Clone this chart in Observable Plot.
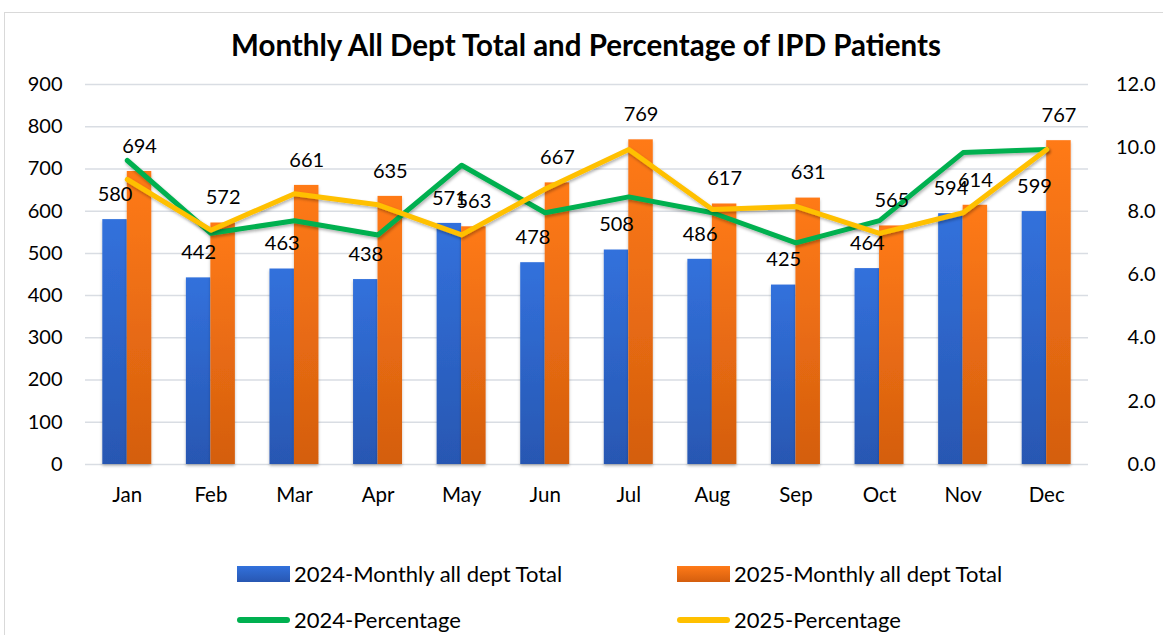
<!DOCTYPE html>
<html><head><meta charset="utf-8">
<script src="https://cdn.jsdelivr.net/npm/d3@7"></script>
<script src="https://cdn.jsdelivr.net/npm/@observablehq/plot@0.6"></script>
<style>
body{margin:0;width:1163px;height:635px;overflow:hidden;background:#fff;font-family:Lato,"Liberation Sans",sans-serif;color:#000;position:relative;}
#frame{position:absolute;left:4px;top:12px;width:1200px;height:700px;border:1px solid #d9d9d9;box-sizing:border-box;}
#title{position:absolute;top:27px;left:0;width:1172px;text-align:center;font-weight:bold;font-size:29.5px;line-height:36px;}
#chart{position:absolute;left:0;top:0;}
.leg{position:absolute;font-size:22px;line-height:26px;white-space:nowrap;}
.sw{position:absolute;}
</style></head>
<body>
<div id="frame"></div>
<div id="chart"></div>
<div id="title">Monthly All Dept Total and Percentage of IPD Patients</div>
<div id="legend"></div>
<script>
const months = ["Jan","Feb","Mar","Apr","May","Jun","Jul","Aug","Sep","Oct","Nov","Dec"];
const total2024 = [580,442,463,438,571,478,508,486,425,464,594,599];
const total2025 = [694,572,661,635,563,667,769,617,631,565,614,767];
const pct2024 = [9.6,7.3,7.7,7.25,9.45,7.95,8.45,7.95,7.0,7.7,9.85,9.95];
const pct2025 = [9.0,7.4,8.55,8.2,7.25,8.7,9.95,8.05,8.15,7.3,7.95,9.95];
const leftTicks = [0,100,200,300,400,500,600,700,800,900];
const rightTicks = [0,2,4,6,8,10,12];
const seriesNames = ["2024-Monthly all dept Total","2025-Monthly all dept Total","2024-Percentage","2025-Percentage"];

const SCALE = 900/12;
const rows = months.map((m,i)=>({month:m,t24:total2024[i],t25:total2025[i],p24:pct2024[i]*SCALE,p25:pct2025[i]*SCALE}));
const W=1163,H=635,mL=85,mR=75,mT=84,mB=171;
const bw = (W-mL-mR)/12*0.586;

const defs = () => {
  const d = d3.create("svg:defs");
  d.html('<linearGradient id="gBlue" x1="0" y1="0" x2="0" y2="1"><stop offset="0" stop-color="#3271dc"/><stop offset="1" stop-color="#2857b2"/></linearGradient>'+
         '<linearGradient id="gOrange" x1="0" y1="0" x2="0" y2="1"><stop offset="0" stop-color="#ff7a18"/><stop offset="1" stop-color="#d45e0e"/></linearGradient>'+
         '<filter id="shadow" x="-5%" y="-20%" width="110%" height="140%"><feDropShadow dx="1" dy="2" stdDeviation="1.5" flood-color="#000" flood-opacity="0.3"/></filter>'+
         '<filter id="bshadow" x="-10%" y="-5%" width="120%" height="115%"><feDropShadow dx="0" dy="2" stdDeviation="1.5" flood-color="#000" flood-opacity="0.25"/></filter>');
  return d.node();
};

const chart = Plot.plot({
  width:W,height:H,marginLeft:mL,marginRight:mR,marginTop:mT,marginBottom:mB,
  style:{fontFamily:"Lato, 'Liberation Sans', sans-serif",fontSize:"20px",color:"#000",background:"transparent",overflow:"visible"},
  x:{domain:months,paddingInner:0.414,paddingOuter:0.207,round:false,label:null},
  y:{domain:[0,900],label:null},
  marks:[
    defs,
    Plot.gridY(leftTicks,{stroke:"#d9dde3",strokeOpacity:1,strokeWidth:1.5}),
    Plot.axisY(leftTicks,{anchor:"left",tickSize:0,tickPadding:23,label:null}),
    Plot.axisY(rightTicks.map(d=>d*SCALE),{anchor:"right",tickSize:0,tickPadding:67,textAnchor:"end",tickFormat:d=>(d/SCALE).toFixed(1),label:null}),
    Plot.axisX({tickSize:0,tickPadding:23,label:null,fontSize:20.5}),
    Plot.barY(rows,{x:"month",y:"t24",fill:"url(#gBlue)",insetRight:bw/2}),
    Plot.barY(rows,{x:"month",y:"t25",fill:"url(#gOrange)",insetLeft:bw/2}),
    Plot.line(rows,{x:"month",y:"p24",stroke:"#00b050",strokeWidth:5,strokeLinejoin:"round"}),
    Plot.line(rows,{x:"month",y:"p25",stroke:"#ffc000",strokeWidth:5,strokeLinejoin:"round"}),
    Plot.text(rows,{x:"month",y:"t24",text:d=>String(d.t24),dx:-bw/4,dy:-25,fill:"#000"}),
    Plot.text(rows,{x:"month",y:"t25",text:d=>String(d.t25),dx:bw/4,dy:-25,fill:"#000"})
  ]
});
document.getElementById("chart").appendChild(chart);
chart.querySelectorAll('g[aria-label="line"]').forEach(g=>g.setAttribute("filter","url(#shadow)"));
chart.querySelectorAll('g[aria-label="bar"]').forEach(g=>g.setAttribute("filter","url(#bshadow)"));

const leg = document.getElementById("legend");
const items = [
  {x:237,y:574,type:"rect",fill:"linear-gradient(#3271dc,#2857b2)",name:seriesNames[0]},
  {x:677,y:574,type:"rect",fill:"linear-gradient(#ff7a18,#d45e0e)",name:seriesNames[1]},
  {x:237,y:620,type:"line",fill:"#00b050",name:seriesNames[2]},
  {x:677,y:620,type:"line",fill:"#ffc000",name:seriesNames[3]}
];
items.forEach(it=>{
  const s=document.createElement("div"); s.className="sw";
  if(it.type==="rect"){Object.assign(s.style,{left:it.x+"px",top:(it.y-8)+"px",width:"53px",height:"16px",background:it.fill});}
  else {Object.assign(s.style,{left:it.x+"px",top:(it.y-3)+"px",width:"53px",height:"6px",background:it.fill,borderRadius:"3px"});}
  leg.appendChild(s);
  const t=document.createElement("div"); t.className="leg"; t.textContent=it.name;
  Object.assign(t.style,{left:(it.x+57)+"px",top:(it.y-13)+"px"});
  leg.appendChild(t);
});
</script>
</body></html>
